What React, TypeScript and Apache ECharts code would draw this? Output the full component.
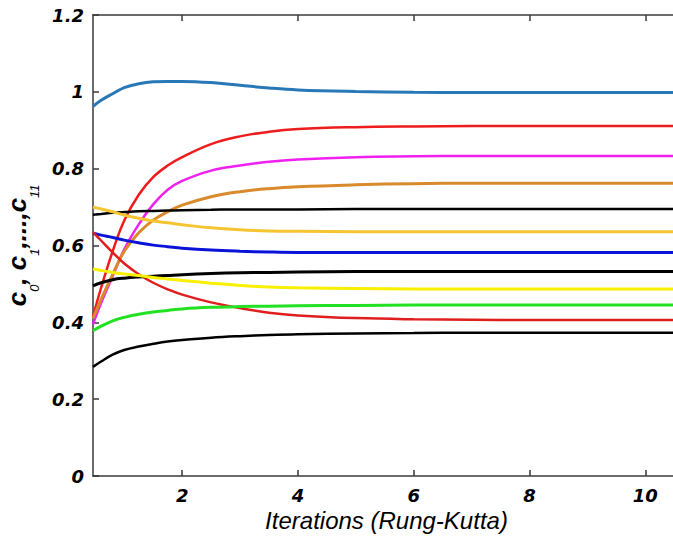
import React, { useEffect, useRef } from "react";
import * as echarts from "echarts";

const t = [0.46, 0.6, 0.8, 1.0, 1.25, 1.5, 1.75, 2.0, 2.5, 3.0, 3.5, 4.0, 5.0, 6.0, 7.0, 8.0, 9.0, 10.0, 10.6];

const c0 = [0.962, 0.978, 0.995, 1.011, 1.021, 1.026, 1.027, 1.027, 1.024, 1.017, 1.010, 1.005, 1.001, 0.999, 0.998, 0.998, 0.998, 0.998, 0.998];
const c1 = [0.415, 0.49, 0.585, 0.665, 0.732, 0.778, 0.808, 0.83, 0.864, 0.884, 0.896, 0.903, 0.908, 0.910, 0.911, 0.911, 0.911, 0.911, 0.911];
const c2 = [0.395, 0.45, 0.52, 0.59, 0.655, 0.707, 0.745, 0.768, 0.795, 0.808, 0.818, 0.824, 0.83, 0.832, 0.833, 0.833, 0.833, 0.833, 0.833];
const c3 = [0.41, 0.46, 0.525, 0.585, 0.633, 0.666, 0.688, 0.705, 0.727, 0.740, 0.748, 0.753, 0.758, 0.761, 0.762, 0.762, 0.762, 0.762, 0.762];
const c4 = [0.68, 0.682, 0.685, 0.687, 0.689, 0.69, 0.691, 0.692, 0.693, 0.694, 0.694, 0.694, 0.695, 0.695, 0.695, 0.695, 0.695, 0.695, 0.695];
const c5 = [0.700, 0.695, 0.688, 0.679, 0.671, 0.664, 0.659, 0.654, 0.646, 0.641, 0.638, 0.637, 0.636, 0.636, 0.636, 0.636, 0.636, 0.636, 0.636];
const c6 = [0.632, 0.627, 0.621, 0.614, 0.607, 0.601, 0.597, 0.593, 0.588, 0.585, 0.583, 0.582, 0.582, 0.582, 0.582, 0.582, 0.582, 0.582, 0.582];
const c7 = [0.635, 0.613, 0.582, 0.553, 0.525, 0.503, 0.486, 0.472, 0.452, 0.437, 0.425, 0.418, 0.411, 0.408, 0.407, 0.406, 0.406, 0.406, 0.406];
const c8 = [0.495, 0.503, 0.511, 0.515, 0.518, 0.520, 0.522, 0.524, 0.527, 0.529, 0.530, 0.531, 0.532, 0.532, 0.532, 0.532, 0.532, 0.532, 0.532];
const c9 = [0.539, 0.535, 0.530, 0.526, 0.522, 0.517, 0.513, 0.509, 0.502, 0.496, 0.492, 0.490, 0.488, 0.487, 0.487, 0.487, 0.487, 0.487, 0.487];
const c10 = [0.378, 0.39, 0.404, 0.413, 0.421, 0.427, 0.431, 0.435, 0.439, 0.441, 0.442, 0.443, 0.444, 0.445, 0.445, 0.445, 0.445, 0.445, 0.445];
const c11 = [0.284, 0.298, 0.316, 0.328, 0.337, 0.344, 0.35, 0.354, 0.36, 0.364, 0.367, 0.369, 0.371, 0.372, 0.373, 0.373, 0.373, 0.373, 0.373];

const seriesValues = [c0, c1, c2, c3, c4, c5, c6, c7, c8, c9, c10, c11];
const seriesNames = ["c0", "c1", "c2", "c3", "c4", "c5", "c6", "c7", "c8", "c9", "c10", "c11"];
const seriesColors = ["#2878b8", "#ee1c1c", "#f020f0", "#d88a2c", "#000000", "#f5c431", "#0a14d8", "#e01e1e", "#000000", "#f8f000", "#22e022", "#000000"];
const seriesWidths = [3, 2.5, 2.5, 3, 2.5, 3, 3, 2.5, 3, 3, 3, 2.5];

const xTicks = [2, 4, 6, 8, 10];

export default function App() {
  const ref = useRef<HTMLDivElement>(null);
  useEffect(() => {
    if (!ref.current) return;
    const chart = echarts.init(ref.current, null, { renderer: "svg" });
    const font = "Liberation Sans, Arial, sans-serif";
    const tickFont = "DejaVu Sans, sans-serif";
    const axisColor = "#3a3a3a";
    chart.setOption({
      animation: false,
      backgroundColor: "#ffffff",
      grid: { left: 93, top: 15, bottom: 62, right: -7, containLabel: false, outerBoundsMode: "none" },
      xAxis: [
        {
          type: "value",
          min: 0.46,
          max: 10.6,
          position: "bottom",
          name: "Iterations (Rung-Kutta)",
          nameLocation: "middle",
          nameGap: 30,
          nameTextStyle: { fontFamily: font, fontStyle: "italic", fontSize: 24, color: "#000" },
          axisLine: { show: true, lineStyle: { color: axisColor, width: 1.5 } },
          axisTick: { show: true, inside: true, length: 6, customValues: xTicks, lineStyle: { color: axisColor, width: 1.5 } },
          axisLabel: { customValues: xTicks, margin: 10, fontFamily: tickFont, fontStyle: "italic", fontWeight: "bold", fontSize: 18, color: "#000" },
          splitLine: { show: false },
        },
        {
          type: "value",
          min: 0.46,
          max: 10.6,
          position: "top",
          axisLine: { show: true, lineStyle: { color: axisColor, width: 1.5 } },
          axisTick: { show: true, inside: true, length: 6, customValues: xTicks, lineStyle: { color: axisColor, width: 1.5 } },
          axisLabel: { show: false },
          splitLine: { show: false },
        },
      ],
      yAxis: {
        type: "value",
        min: 0,
        max: 1.2,
        interval: 0.2,
        name: "{h| }{b|c}{s|0}{b|, c}{s|1}{b|,...,c}{s|11}",
        nameLocation: "middle",
        nameRotate: 90,
        nameGap: 42,
        nameTextStyle: {
          rich: {
            h: { fontSize: 1, lineHeight: 37, verticalAlign: "middle" },
            b: { fontFamily: font, fontWeight: "bold", fontStyle: "italic", fontSize: 26, color: "#000", lineHeight: 28, verticalAlign: "top" },
            s: { fontFamily: font, fontStyle: "italic", fontSize: 13, color: "#000", lineHeight: 14, verticalAlign: "bottom" },
          },
        },
        axisLine: { show: true, lineStyle: { color: axisColor, width: 1.5 } },
        axisTick: { show: true, inside: true, length: 6, lineStyle: { color: axisColor, width: 1.5 } },
        axisLabel: { margin: 9, fontFamily: tickFont, fontStyle: "italic", fontWeight: "bold", fontSize: 18, color: "#000" },
        splitLine: { show: false },
      },
      series: seriesValues.map((vals, i) => ({
        name: seriesNames[i],
        type: "line",
        smooth: 0.4,
        showSymbol: false,
        symbol: "none",
        data: t.map((x, j) => [x, vals[j]]),
        lineStyle: { color: seriesColors[i], width: seriesWidths[i] },
        itemStyle: { color: seriesColors[i] },
      })),
    });
    return () => chart.dispose();
  }, []);
  return <div ref={ref} style={{ position: "absolute", left: 0, top: 0, width: 673, height: 538 }} />;
}
